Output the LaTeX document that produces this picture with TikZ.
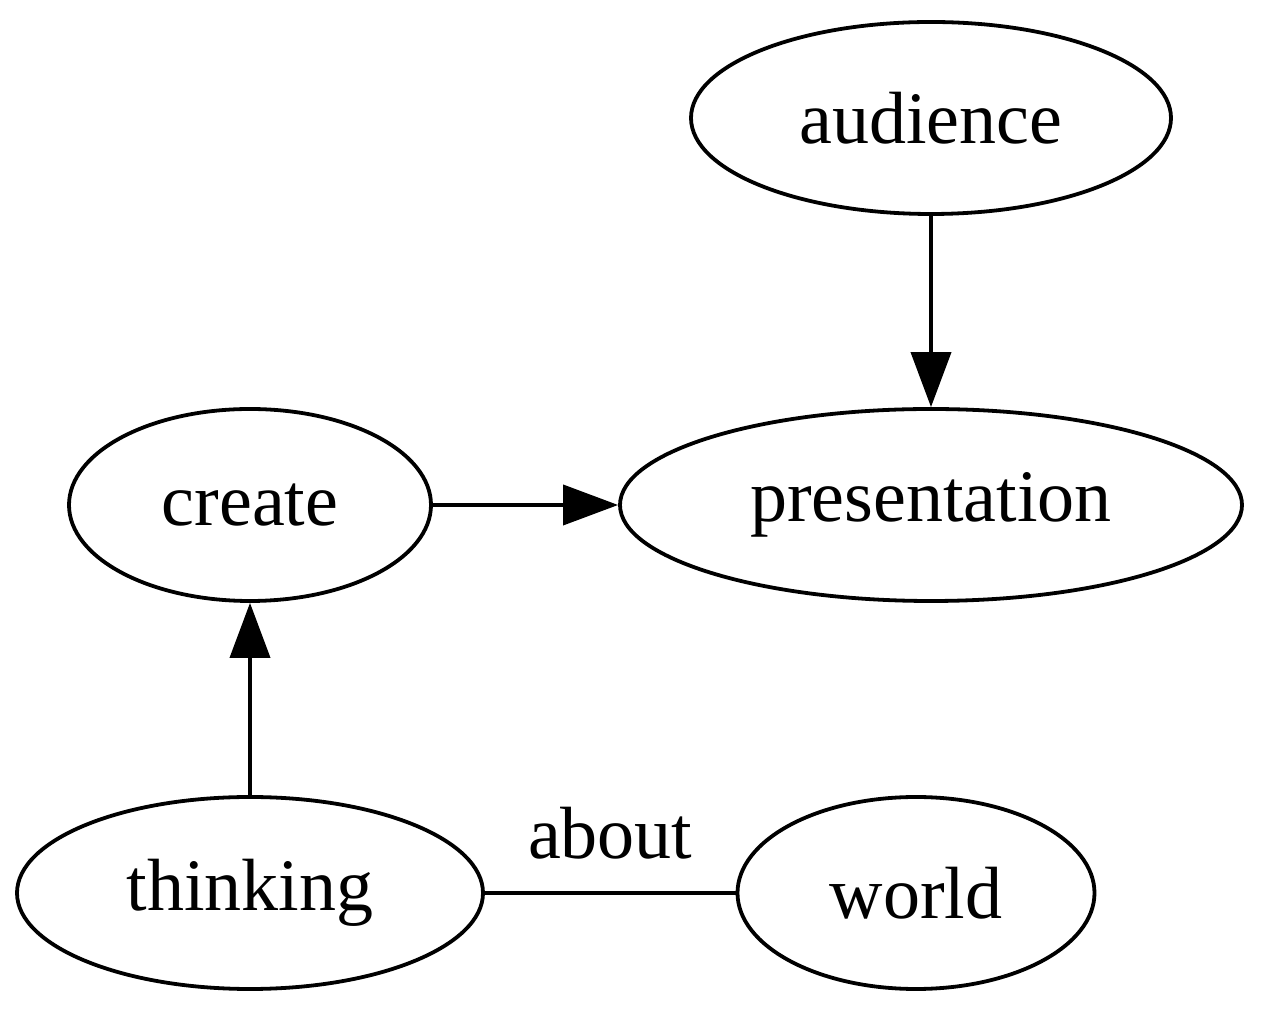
\documentclass[tikz,border=0pt]{standalone}
\usepackage{fontspec}
\setmainfont{Liberation Serif}
\usetikzlibrary{shapes.geometric,arrows.meta}
\begin{document}
\begin{tikzpicture}[x=1pt,y=1pt,
  gfont/.style={font=\fontsize{74}{88}\selectfont},
  gnode/.style={draw,ellipse,line width=3.8pt,inner sep=0pt,minimum height=192pt,gfont},
  garrow/.style={line width=3.8pt,-{Triangle[length=55pt,width=40pt]}},
  gline/.style={line width=3.8pt}]
\useasboundingbox (0,0) rectangle (1264,1012);
\node[gnode,minimum width=480pt] (audience) at (931,894) {audience};
\node[gnode,minimum width=622pt] (presentation) at (931,507) {presentation};
\node[gnode,minimum width=362pt] (create) at (250,507) {create};
\node[gnode,minimum width=466pt] (thinking) at (250,119) {thinking};
\node[gnode,minimum width=357pt] (world) at (916,119) {world};
\draw[garrow] (audience) -- (presentation);
\draw[garrow] (create) -- (presentation);
\draw[garrow] (thinking) -- (create);
\draw[gline] (thinking) -- node[above=32pt,gfont,inner sep=0pt] (about) {about} (world);
\end{tikzpicture}
\end{document}
